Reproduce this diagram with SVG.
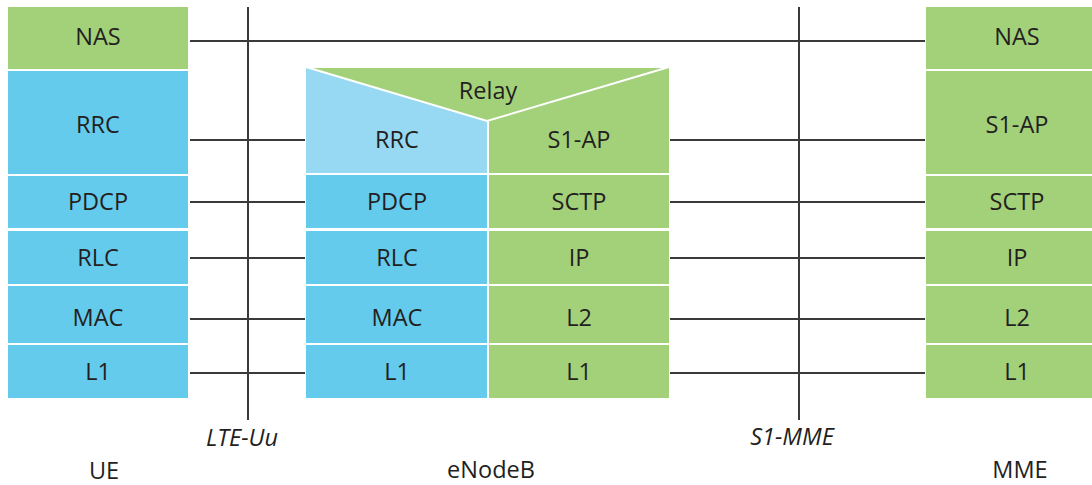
<svg xmlns="http://www.w3.org/2000/svg" width="1092" height="485" viewBox="0 0 1092 485">
<style>
.g{fill:#a3d17a}
.b{fill:#64cbed}
.lb{fill:#97d9f2}
.t{font-family:"Open Sans","Noto Sans","Liberation Sans",sans-serif;font-size:23.5px;fill:#231f20;text-anchor:middle}
.i{font-style:italic}
.ln{stroke:#3a3a3a;stroke-width:2;fill:none}
</style>
<rect width="1092" height="485" fill="#ffffff"/>
<g id="connectors">
<line class="ln" x1="248" y1="7" x2="248" y2="420"/>
<line class="ln" x1="799" y1="7" x2="799" y2="420"/>
<line class="ln" x1="190" y1="41" x2="925" y2="41"/>
<line class="ln" x1="190" y1="140" x2="305" y2="140"/>
<line class="ln" x1="190" y1="202" x2="305" y2="202"/>
<line class="ln" x1="190" y1="258" x2="305" y2="258"/>
<line class="ln" x1="190" y1="319" x2="305" y2="319"/>
<line class="ln" x1="190" y1="373" x2="305" y2="373"/>
<line class="ln" x1="670" y1="140" x2="925" y2="140"/>
<line class="ln" x1="670" y1="202" x2="925" y2="202"/>
<line class="ln" x1="670" y1="258" x2="925" y2="258"/>
<line class="ln" x1="670" y1="319" x2="925" y2="319"/>
<line class="ln" x1="670" y1="373" x2="925" y2="373"/>
</g>
<g id="ue">
<rect class="g" x="8" y="7" width="180" height="62"/>
<rect class="b" x="8" y="71" width="180" height="103"/>
<rect class="b" x="8" y="176" width="180" height="52"/>
<rect class="b" x="8" y="231" width="180" height="53"/>
<rect class="b" x="8" y="286" width="180" height="57"/>
<rect class="b" x="8" y="345" width="180" height="53"/>
<text class="t" x="98" y="45">NAS</text>
<text class="t" x="98" y="133">RRC</text>
<text class="t" x="98" y="210">PDCP</text>
<text class="t" x="98" y="266">RLC</text>
<text class="t" x="98" y="326">MAC</text>
<text class="t" x="98" y="380">L1</text>
<text class="t" x="104" y="479">UE</text>
</g>
<g id="enodeb">
<rect class="lb" x="306" y="67" width="181" height="106"/>
<rect class="g" x="489" y="67" width="180" height="106"/>
<polygon class="g" points="306,67 669,67 487,121" stroke="#ffffff" stroke-width="2" stroke-linejoin="miter"/>
<rect class="b" x="306" y="175" width="181" height="53"/>
<rect class="g" x="489" y="175" width="180" height="53"/>
<rect class="b" x="306" y="231" width="181" height="53"/>
<rect class="g" x="489" y="231" width="180" height="53"/>
<rect class="b" x="306" y="286" width="181" height="57"/>
<rect class="g" x="489" y="286" width="180" height="57"/>
<rect class="b" x="306" y="345" width="181" height="53"/>
<rect class="g" x="489" y="345" width="180" height="53"/>
<text class="t" x="488" y="99">Relay</text>
<text class="t" x="397" y="148">RRC</text>
<text class="t" x="579" y="148">S1-AP</text>
<text class="t" x="397" y="210">PDCP</text>
<text class="t" x="579" y="210">SCTP</text>
<text class="t" x="397" y="266">RLC</text>
<text class="t" x="579" y="266">IP</text>
<text class="t" x="397" y="326">MAC</text>
<text class="t" x="579" y="326">L2</text>
<text class="t" x="397" y="380">L1</text>
<text class="t" x="579" y="380">L1</text>
<text class="t" x="491" y="478">eNodeB</text>
</g>
<g id="mme">
<rect class="g" x="926" y="7" width="166" height="62"/>
<rect class="g" x="926" y="71" width="166" height="103"/>
<rect class="g" x="926" y="176" width="166" height="52"/>
<rect class="g" x="926" y="231" width="166" height="53"/>
<rect class="g" x="926" y="286" width="166" height="57"/>
<rect class="g" x="926" y="345" width="166" height="53"/>
<text class="t" x="1017" y="45">NAS</text>
<text class="t" x="1017" y="133">S1-AP</text>
<text class="t" x="1017" y="210">SCTP</text>
<text class="t" x="1017" y="266">IP</text>
<text class="t" x="1017" y="326">L2</text>
<text class="t" x="1017" y="380">L1</text>
<text class="t" x="1020" y="478">MME</text>
</g>
<g id="labels">
<text class="t i" x="242" y="446">LTE-Uu</text>
<text class="t i" x="792" y="445">S1-MME</text>
</g>
</svg>
